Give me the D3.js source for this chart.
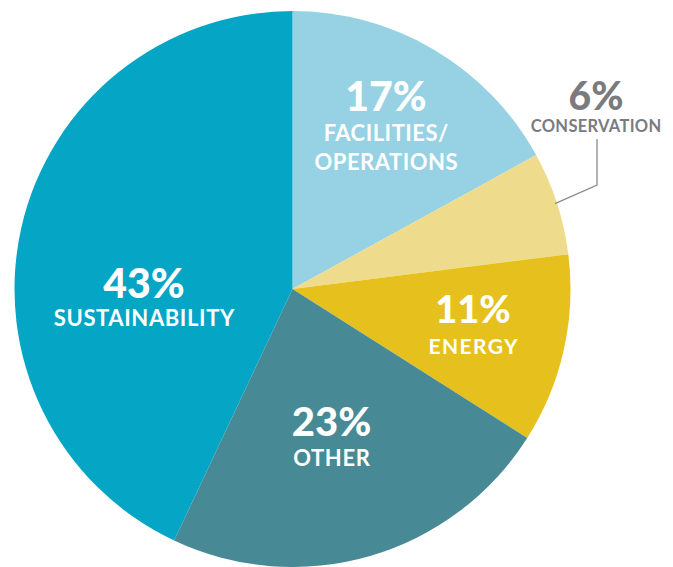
<!DOCTYPE html>
<html><head><meta charset="utf-8">
<script src="https://cdn.jsdelivr.net/npm/d3@7"></script>
<style>
html,body{margin:0;padding:0;background:#fff;}
svg{display:block;}
text{font-family:"Lato","Open Sans",sans-serif;}
</style></head>
<body>
<svg id="chart" width="673" height="567"></svg>
<script>
// Budget share by category, clockwise from 12 o'clock
const categories = ["FACILITIES/\nOPERATIONS", "CONSERVATION", "ENERGY", "OTHER", "SUSTAINABILITY"];
const values = [17, 6, 11, 23, 43];
const colors = ["#96d2e3", "#eedc8c", "#e6c11e", "#478a95", "#04a5c5"];

// Label placement relative to the pie centre: x, baseline of the percentage,
// baseline of the first name line, line spacing, font sizes
const labelLayout = [
  {x: 93.5,  y: -178, ny: -148, gap: 29, fill: "#fff",    pct: 41, name: 22,   ls: 0.5},
  {x: 303.5, y: -179, ny: -157, gap: 0,  fill: "#7a7b7e", pct: 39, name: 16.5, ls: 0.3},
  {x: 180.5, y: 34,   ny: 65,   gap: 0,  fill: "#fff",    pct: 38, name: 21,   ls: 1.4},
  {x: 39,    y: 147,  ny: 177,  gap: 0,  fill: "#fff",    pct: 40, name: 22,   ls: 0.6},
  {x: -148.5,y: 9,    ny: 37,   gap: 0,  fill: "#fff",    pct: 41, name: 22,   ls: 0.6}
];

const cx = 292.5, cy = 289, R = 278;
const svg = d3.select("#chart");
const g = svg.append("g").attr("transform", `translate(${cx},${cy})`);

const pie = d3.pie().sort(null).value(d => d);
const arcs = pie(values);
const arc = d3.arc().innerRadius(0).outerRadius(R);

g.selectAll("path.slice").data(arcs).join("path")
  .attr("class", "slice")
  .attr("d", arc)
  .attr("fill", (d, i) => colors[i]);

// leader line from the narrow slice up to its outside label
const small = arcs[1];
const mid = (small.startAngle + small.endAngle) / 2;
const start = [Math.sin(mid) * (R - 2), -Math.cos(mid) * (R - 2)];
const lx = labelLayout[1].x + 1;
g.append("polyline")
  .attr("points", [start, [lx, -104], [lx, -150]].map(p => p.join(",")).join(" "))
  .attr("fill", "none").attr("stroke", "#8a8b8d").attr("stroke-width", 1.3);

arcs.forEach((d, i) => {
  const L = labelLayout[i];
  const lines = categories[i].split("\n");
  const t = g.append("text").attr("text-anchor", "middle").attr("fill", L.fill);
  t.append("tspan").attr("x", L.x).attr("y", L.y)
    .attr("font-size", L.pct).attr("font-weight", 900)
    .text(values[i] + "%");
  lines.forEach((ln, k) => {
    t.append("tspan").attr("x", L.x + L.ls / 2).attr("y", L.ny + L.gap * k)
      .attr("font-size", L.name).attr("font-weight", 700)
      .attr("letter-spacing", L.ls)
      .text(ln);
  });
});
</script>
</body></html>
